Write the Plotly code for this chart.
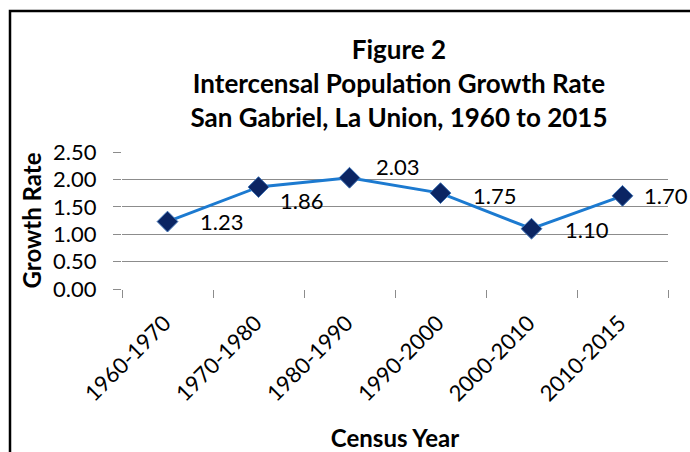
import plotly.graph_objects as go

categories = ["1960-1970", "1970-1980", "1980-1990", "1990-2000", "2000-2010", "2010-2015"]
growth_rate = [1.23, 1.86, 2.03, 1.75, 1.10, 1.70]
y_ticks = [0.0, 0.5, 1.0, 1.5, 2.0, 2.5]
label_texts = ["1.23", "1.86", "2.03", "1.75", "1.10", "1.70"]

FONT = "Lato, 'Open Sans', sans-serif"

fig = go.Figure()
fig.add_trace(go.Scatter(
    x=categories, y=growth_rate, mode="lines+markers",
    line=dict(color="#1C7AD0", width=3),
    marker=dict(symbol="diamond", size=16, color="#0B2563",
                line=dict(color="#3F73B5", width=1)),
    showlegend=False, hoverinfo="skip",
))

# label nudges (styling only)
xs = [30, 19, 24, 30, 31, 19]
ys = [0, -13, 11, -2, -1, 0]
for c, v, t, dx, dy in zip(categories, growth_rate, label_texts, xs, ys):
    fig.add_annotation(x=c, y=v, text=t, showarrow=False, xanchor="left",
                       yanchor="middle", xshift=dx, yshift=dy,
                       font=dict(family=FONT, size=22, color="#000000"))

# chart border (top + left visible)
fig.add_shape(type="rect", xref="paper", yref="paper",
              x0=(10 - 122) / 546, x1=2.5, y0=-3, y1=(289 - 11) / 137,
              line=dict(color="#000000", width=2.5), layer="above")

fig.update_layout(
    width=690, height=452,
    margin=dict(l=122, r=22, t=152, b=163, autoexpand=False),
    paper_bgcolor="white", plot_bgcolor="white",
    font=dict(family=FONT, color="#000000"),
    title=dict(
        text="<b>Figure 2</b><br><b>Intercensal Population Growth Rate</b><br><b>San Gabriel, La Union, 1960 to 2015</b>",
        x=350 / 690, xanchor="center", xref="paper",
        y=1 - 59 / 452, yanchor="middle", yref="container",
        font=dict(family=FONT, size=26, color="#000000"),
    ),
    xaxis=dict(
        type="category", range=[-0.5, 5.5], tickangle=-45, automargin=False,
        ticks="outside", ticklen=8, tickcolor="#8C8C8C", tickson="boundaries",
        showgrid=False, showline=False, zeroline=False,
        tickfont=dict(family=FONT, size=22, color="#000000"),
        ticklabelstandoff=16, ticklabelshift=-3,
        title=dict(text="<b>Census Year</b>", font=dict(family=FONT, size=24), standoff=24),
    ),
    yaxis=dict(
        range=[0, 2.5], tickvals=y_ticks, tickformat=".2f", automargin=False,
        ticks="outside", ticklen=8, tickcolor="#8C8C8C",
        showgrid=True, gridcolor="#8C8C8C", gridwidth=1,
        showline=False, zeroline=False,
        tickfont=dict(family=FONT, size=22, color="#000000"),
        ticklabelstandoff=12,
        title=dict(text="<b>Growth Rate</b>", font=dict(family=FONT, size=24), standoff=4),
    ),
)

fig.write_html("out.html", config={"displayModeBar": False},
               post_script="document.body.style.margin='0';document.body.style.padding='0';")
